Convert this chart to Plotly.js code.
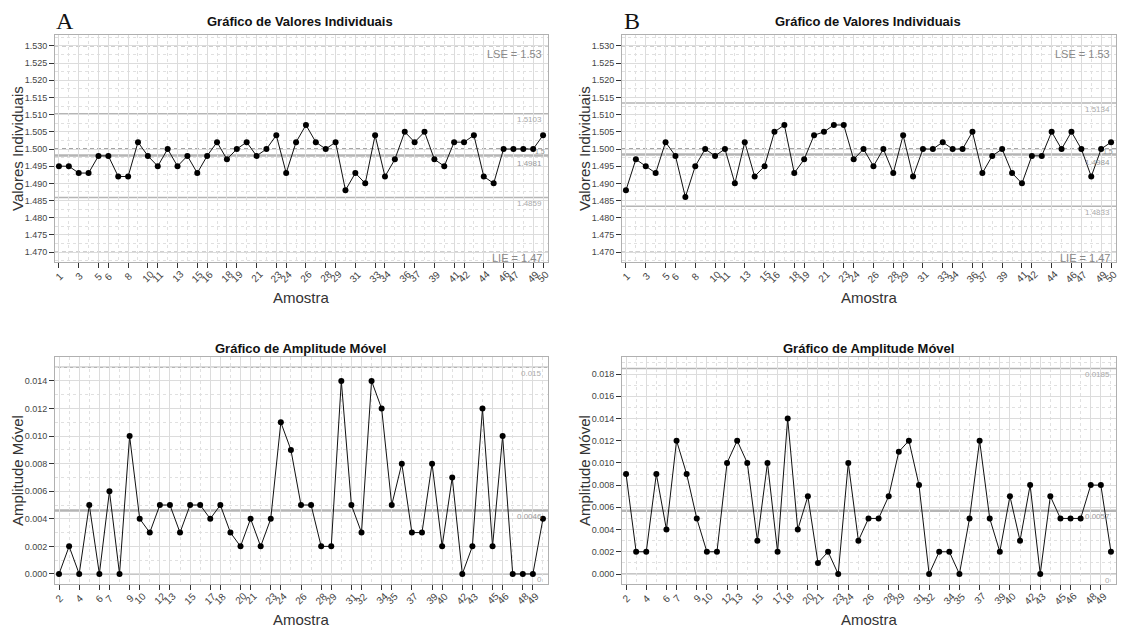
<!DOCTYPE html>
<html>
<head>
<meta charset="utf-8">
<script src="https://cdn.plot.ly/plotly-3.0.1.min.js"></script>
<style>html,body{margin:0;padding:0;background:#fff;}#chart{width:1121px;height:630px;}</style>
</head>
<body>
<div id="chart"></div>
<script>
// ---------- DATA ----------
const amostraI = [1,2,3,4,5,6,7,8,9,10,11,12,13,14,15,16,17,18,19,20,21,22,23,24,25,26,27,28,29,30,31,32,33,34,35,36,37,38,39,40,41,42,43,44,45,46,47,48,49,50];
const amostraMR = [2,3,4,5,6,7,8,9,10,11,12,13,14,15,16,17,18,19,20,21,22,23,24,25,26,27,28,29,30,31,32,33,34,35,36,37,38,39,40,41,42,43,44,45,46,47,48,49,50];

const valoresA = [1.495,1.495,1.493,1.493,1.498,1.498,1.492,1.492,1.502,1.498,
                  1.495,1.500,1.495,1.498,1.493,1.498,1.502,1.497,1.500,1.502,
                  1.498,1.500,1.504,1.493,1.502,1.507,1.502,1.500,1.502,1.488,
                  1.493,1.490,1.504,1.492,1.497,1.505,1.502,1.505,1.497,1.495,
                  1.502,1.502,1.504,1.492,1.490,1.500,1.500,1.500,1.500,1.504];
const amplitudeA = [0,0.002,0,0.005,0,0.006,0,0.010,0.004,0.003,
                    0.005,0.005,0.003,0.005,0.005,0.004,0.005,0.003,0.002,0.004,
                    0.002,0.004,0.011,0.009,0.005,0.005,0.002,0.002,0.014,0.005,
                    0.003,0.014,0.012,0.005,0.008,0.003,0.003,0.008,0.002,0.007,
                    0,0.002,0.012,0.002,0.010,0,0,0,0.004];

const valoresB = [1.488,1.497,1.495,1.493,1.502,1.498,1.486,1.495,1.500,1.498,
                  1.500,1.490,1.502,1.492,1.495,1.505,1.507,1.493,1.497,1.504,
                  1.505,1.507,1.507,1.497,1.500,1.495,1.500,1.493,1.504,1.492,
                  1.500,1.500,1.502,1.500,1.500,1.505,1.493,1.498,1.500,1.493,
                  1.490,1.498,1.498,1.505,1.500,1.505,1.500,1.492,1.500,1.502];
const amplitudeB = [0.009,0.002,0.002,0.009,0.004,0.012,0.009,0.005,0.002,0.002,
                    0.010,0.012,0.010,0.003,0.010,0.002,0.014,0.004,0.007,0.001,
                    0.002,0,0.010,0.003,0.005,0.005,0.007,0.011,0.012,0.008,
                    0,0.002,0.002,0,0.005,0.012,0.005,0.002,0.007,0.003,
                    0.008,0,0.007,0.005,0.005,0.005,0.008,0.008,0.002];

// control limits [LSC, LC, LIC] and labels
const limitesIA = [1.5103, 1.4981, 1.4859];
const limitesMRA = [0.015, 0.0046, 0];
const limitesIB = [1.5134, 1.4984, 1.4833];
const limitesMRB = [0.0185, 0.0057, 0];
const rotulosIA = ['1.5103', '1.4981', '1.4859'];
const rotulosMRA = ['0.015', '0.0046', '0'];
const rotulosIB = ['1.5134', '1.4984', '1.4833'];
const rotulosMRB = ['0.0185', '0.0057', '0'];
const especSup = 1.53, especInf = 1.47, alvo = 1.5;

// tick labels
const ticksI = [1,3,5,6,8,10,11,13,15,16,18,19,21,23,24,26,28,29,31,33,34,36,37,39,41,42,44,46,47,49,50];
const ticksMR = [2,4,6,7,9,10,12,13,15,17,18,20,21,23,24,26,28,29,31,32,34,35,37,39,40,42,43,45,46,48,49];

// ---------- LAYOUT ----------
const W = 1121, H = 630;
const px = v => v / W, py = v => 1 - v / H;
const domXA = [px(55), px(548)], domXB = [px(622), px(1116)];
const domYTop = [py(262), py(35)], domYBot = [py(584), py(357)];

const FONT = 'Liberation Sans, Arial, sans-serif';
const line = {color: '#111', width: 1};
const marker = {color: '#000', size: 6, symbol: 'circle'};

function serie(x, y, xa, ya) {
  return {x: x, y: y, xaxis: xa, yaxis: ya, type: 'scatter', mode: 'lines+markers',
          line: line, marker: marker, hoverinfo: 'x+y', showlegend: false, cliponaxis: false};
}
const traces = [
  serie(amostraI, valoresA, 'x', 'y'),
  serie(amostraI, valoresB, 'x2', 'y2'),
  serie(amostraMR, amplitudeA, 'x3', 'y3'),
  serie(amostraMR, amplitudeB, 'x4', 'y4')
];

function xaxis(dom, range, anchor) {
  return {domain: dom, range: range, anchor: anchor, showticklabels: false,
          tickmode: 'array', tickvals: null, ticks: 'outside', ticklen: 5, tickwidth: 1, tickcolor: '#333',
          showgrid: true, gridcolor: '#dcdcdc', gridwidth: 1,
          minor: {dtick: 1, tick0: 0, showgrid: true, gridcolor: '#e0e0e0', griddash: 'dot', gridwidth: 1, ticks: ''},
          showline: true, mirror: true, linecolor: '#b0b0b0', linewidth: 1, zeroline: false, fixedrange: true};
}
function yaxis(dom, range, dtick, minor, anchor) {
  return {domain: dom, range: range, anchor: anchor, tickmode: 'linear', tick0: 0, dtick: dtick,
          tickformat: '.3f', ticks: 'outside', ticklen: 5, tickwidth: 1, tickcolor: '#333',
          tickfont: {family: FONT, size: 9, color: '#444'},
          showgrid: true, gridcolor: '#dcdcdc', gridwidth: 1,
          minor: {dtick: minor, showgrid: true, gridcolor: '#e0e0e0', griddash: 'dot', gridwidth: 1, ticks: ''},
          showline: true, mirror: true, linecolor: '#b0b0b0', linewidth: 1, zeroline: false, fixedrange: true};
}

const xa1 = xaxis(domXA, [0.6, 50.5], 'y');  xa1.tickvals = ticksI;
const xa2 = xaxis(domXB, [0.6, 50.5], 'y2'); xa2.tickvals = ticksI;
const xa3 = xaxis(domXA, [1.6, 50.5], 'y3'); xa3.tickvals = ticksMR;
const xa4 = xaxis(domXB, [1.6, 50.5], 'y4'); xa4.tickvals = ticksMR;

const shapes = [];
const annotations = [];

function hline(xr, yr, y, color, width, dash) {
  shapes.push({type: 'line', xref: xr + ' domain', x0: 0, x1: 1, yref: yr, y0: y, y1: y,
               line: {color: color, width: width, dash: dash || 'solid'}, layer: 'below'});
}
function rotulo(xr, yr, y, text, size, color, shift, xpos) {
  annotations.push({xref: xr + ' domain', x: xpos || 0.992, xanchor: 'right', yref: yr, y: y, yanchor: 'middle',
                    yshift: shift, text: text, showarrow: false, font: {family: FONT, size: size, color: color}});
}

function painelI(xr, yr, lim, rot) {
  hline(xr, yr, especSup, '#9a9a9a', 1, '4px,3px');
  hline(xr, yr, especInf, '#9a9a9a', 1, '4px,3px');
  hline(xr, yr, lim[0], '#b5b5b5', 1.5);
  hline(xr, yr, lim[1], '#b5b5b5', 2.5);
  hline(xr, yr, lim[2], '#b5b5b5', 1.5);
  hline(xr, yr, alvo, '#444', 1, '4px,3px');
  rotulo(xr, yr, especSup, 'LSE = ' + especSup, 11, '#888', -8);
  rotulo(xr, yr, especInf, 'LIE = ' + especInf, 11, '#888', -6);
  rotulo(xr, yr, lim[0], rot[0], 8, '#aaa', -6);
  rotulo(xr, yr, lim[1], rot[1], 8, '#999', -8);
  rotulo(xr, yr, lim[2], rot[2], 8, '#aaa', -6);
  rotulo(xr, yr, alvo, '1.5', 7, '#999', -2, 0.998);
}
function painelMR(xr, yr, lim, rot) {
  hline(xr, yr, lim[0], '#b5b5b5', 1.5);
  hline(xr, yr, lim[1], '#b5b5b5', 2.5);
  hline(xr, yr, lim[2], '#b5b5b5', 1.5);
  rotulo(xr, yr, lim[0], rot[0], 8, '#aaa', -6);
  rotulo(xr, yr, lim[1], rot[1], 8, '#999', -6);
  rotulo(xr, yr, lim[2], rot[2], 8, '#aaa', -6);
}
painelI('x', 'y', limitesIA, rotulosIA);
painelI('x2', 'y2', limitesIB, rotulosIB);
painelMR('x3', 'y3', limitesMRA, rotulosMRA);
painelMR('x4', 'y4', limitesMRB, rotulosMRB);

// rotated tick labels centred on ticks
function rotulosX(xr, ticks, yPix) {
  ticks.forEach(t => annotations.push({xref: xr, x: t, yref: 'paper', y: py(yPix), xanchor: 'center', yanchor: 'middle',
    text: String(t), textangle: -45, showarrow: false, font: {family: FONT, size: 10, color: '#444'}}));
}
rotulosX('x', ticksI, 276);
rotulosX('x2', ticksI, 276);
rotulosX('x3', ticksMR, 598);
rotulosX('x4', ticksMR, 598);

function texto(x, y, text, size, opts) {
  annotations.push(Object.assign({xref: 'paper', yref: 'paper', x: px(x), y: py(y), xanchor: 'center', yanchor: 'middle',
    text: text, showarrow: false, font: {family: FONT, size: size, color: '#222'}}, opts || {}));
}
// panel titles
texto(300, 22, '<b>Gráfico de Valores Individuais</b>', 13, {font: {family: FONT, size: 13, color: '#111'}});
texto(868, 22, '<b>Gráfico de Valores Individuais</b>', 13, {font: {family: FONT, size: 13, color: '#111'}});
texto(300, 348, '<b>Gráfico de Amplitude Móvel</b>', 13, {font: {family: FONT, size: 13, color: '#111'}});
texto(868, 348, '<b>Gráfico de Amplitude Móvel</b>', 13, {font: {family: FONT, size: 13, color: '#111'}});
// panel letters
texto(65, 21, 'A', 24, {font: {family: 'Liberation Serif, Times New Roman, serif', size: 24, color: '#111'}});
texto(632, 21, 'B', 24, {font: {family: 'Liberation Serif, Times New Roman, serif', size: 24, color: '#111'}});
// axis titles
texto(17, 149, 'Valores Individuais', 15, {textangle: -90, font: {family: FONT, size: 15, color: '#333'}});
texto(584, 149, 'Valores Individuais', 15, {textangle: -90, font: {family: FONT, size: 15, color: '#333'}});
texto(17, 471, 'Amplitude Móvel', 15, {textangle: -90, font: {family: FONT, size: 15, color: '#333'}});
texto(584, 471, 'Amplitude Móvel', 15, {textangle: -90, font: {family: FONT, size: 15, color: '#333'}});
texto(301, 297, 'Amostra', 15, {font: {family: FONT, size: 15, color: '#333'}});
texto(869, 297, 'Amostra', 15, {font: {family: FONT, size: 15, color: '#333'}});
texto(301, 619, 'Amostra', 15, {font: {family: FONT, size: 15, color: '#333'}});
texto(869, 619, 'Amostra', 15, {font: {family: FONT, size: 15, color: '#333'}});

const layout = {
  width: W, height: H, margin: {l: 0, r: 0, t: 0, b: 0},
  paper_bgcolor: '#fff', plot_bgcolor: '#fff', showlegend: false,
  font: {family: FONT},
  xaxis: xa1, xaxis2: xa2, xaxis3: xa3, xaxis4: xa4,
  yaxis: yaxis(domYTop, [1.4671, 1.5332], 0.005, 0.0025, 'x'),
  yaxis2: yaxis(domYTop, [1.4671, 1.5332], 0.005, 0.0025, 'x2'),
  yaxis3: yaxis(domYBot, [-0.00073, 0.01574], 0.002, 0.001, 'x3'),
  yaxis4: yaxis(domYBot, [-0.0009, 0.01953], 0.002, 0.001, 'x4'),
  shapes: shapes, annotations: annotations
};
Plotly.newPlot('chart', traces, layout, {displayModeBar: false, staticPlot: true});
</script>
</body>
</html>
